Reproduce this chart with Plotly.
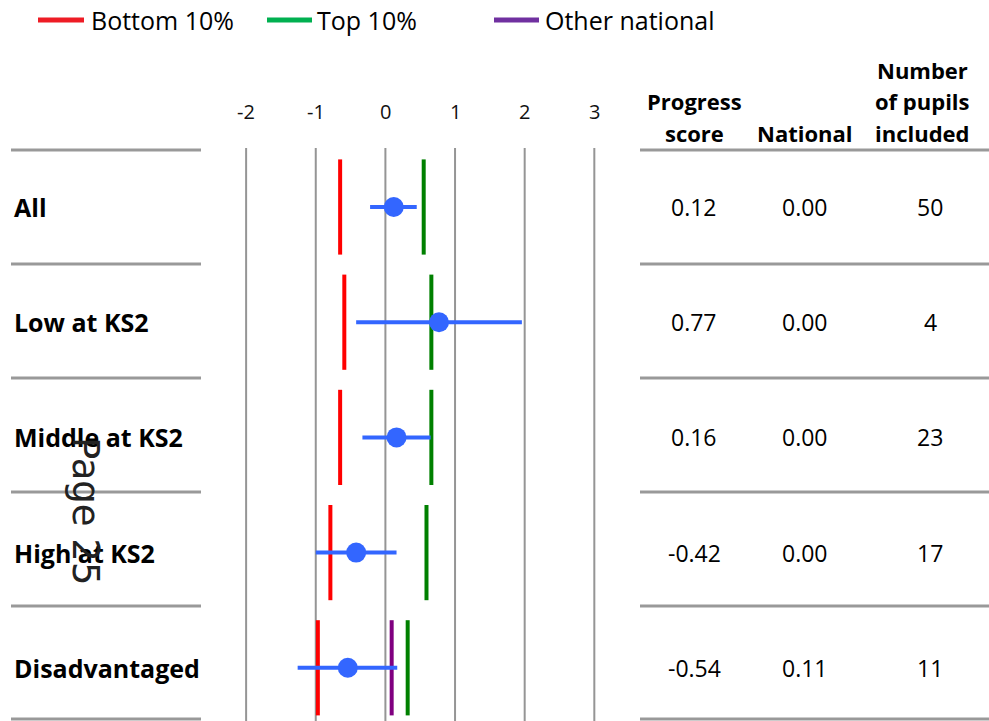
import plotly.graph_objects as go

# ---------------- data ----------------
groups = ["All", "Low at KS2", "Middle at KS2", "High at KS2", "Disadvantaged"]
progress = [0.12, 0.77, 0.16, -0.42, -0.54]
ci_low = [-0.22, -0.42, -0.33, -1.00, -1.26]
ci_high = [0.45, 1.96, 0.65, 0.16, 0.17]
bottom10 = [-0.65, -0.59, -0.65, -0.79, -0.97]
top10 = [0.55, 0.66, 0.66, 0.59, 0.32]
other_national = [None, None, None, None, 0.09]
progress_labels = ["0.12", "0.77", "0.16", "-0.42", "-0.54"]
national_labels = ["0.00", "0.00", "0.00", "0.00", "0.11"]
pupils = [50, 4, 23, 17, 11]
tick_vals = [-2, -1, 0, 1, 2, 3]
tick_text = ["-2", "-1", "0", "1", "2", "3"]
legend_names = ["Bottom 10%", "Top 10%", "Other national"]
headers = ["Progress<br>score", "National", "Number<br>of pupils<br>included"]

# ---------------- geometry helpers ----------------
W, H = 989, 721
X0PX, XSCALE = 385.4, 69.64      # px of x=0, px per unit
Y0PX, YSCALE = 207.0, 115.2      # px of row 0 centre, px per row
xrange = [(0 - X0PX) / XSCALE, (W - X0PX) / XSCALE]
yrange = [(H - Y0PX) / YSCALE, (0 - Y0PX) / YSCALE]


def px_x(p):
    return p / W


def px_y(p):
    return 1 - p / H


FONT = "Open Sans"
rows = list(range(len(groups)))

RED_C, GREEN_C, PURPLE_C, BLUE_C = "#FF0000", "#008000", "#800080", "#3366FF"
GRID_C = "#959595"

fig = go.Figure()

# benchmark lines (vertical ticks)
for vals, col in [(bottom10, RED_C), (top10, GREEN_C), (other_national, PURPLE_C)]:
    fig.add_trace(go.Scatter(
        x=vals, y=rows, mode="markers", showlegend=False, hoverinfo="skip",
        marker=dict(symbol="line-ns-open", size=68, color=col,
                    line=dict(width=4, color=col)),
    ))

# progress score with confidence interval
fig.add_trace(go.Scatter(
    x=progress, y=rows, mode="markers", showlegend=False,
    marker=dict(size=20, color=BLUE_C),
    error_x=dict(type="data", symmetric=False,
                 array=[h - p for h, p in zip(ci_high, progress)],
                 arrayminus=[p - l for p, l in zip(progress, ci_low)],
                 color=BLUE_C, thickness=4, width=0),
))

shapes = []
annotations = []

# vertical gridlines
for tv in tick_vals:
    shapes.append(dict(type="line", xref="x", yref="paper", x0=tv, x1=tv,
                       y0=px_y(148), y1=0, line=dict(color=GRID_C, width=2),
                       layer="below"))

# horizontal separators
sep_px = [150, 264, 378, 492, 606, 719]
for sp in sep_px:
    for xa, xb in [(11, 201), (640, 989)]:
        shapes.append(dict(type="line", xref="paper", yref="paper",
                           x0=px_x(xa), x1=px_x(xb), y0=px_y(sp), y1=px_y(sp),
                           line=dict(color="#999999", width=3)))

# tick labels
for tv, tt in zip(tick_vals, tick_text):
    annotations.append(dict(x=tv, xref="x", y=px_y(112), yref="paper",
                            text=tt, showarrow=False,
                            font=dict(family=FONT, size=20, color="#111111"),
                            xanchor="center", yanchor="middle"))

# row labels and table values
for i, g in enumerate(groups):
    annotations.append(dict(x=px_x(12), xref="paper", y=i, yref="y",
                            text="<b>%s</b>" % g, showarrow=False,
                            font=dict(family=FONT, size=25, color="#000000"),
                            xanchor="left", yanchor="middle"))
    for xp, txt in [(694, progress_labels[i]), (805, national_labels[i]),
                    (930, str(pupils[i]))]:
        annotations.append(dict(x=px_x(xp), xref="paper", y=i, yref="y",
                                text=txt, showarrow=False,
                                font=dict(family=FONT, size=23, color="#000000"),
                                xanchor="center", yanchor="middle"))

# headers (one annotation per line, bottom line aligned)
for xp, htxt in zip([694, 805, 922], headers):
    lines = htxt.split("<br>")
    n = len(lines)
    for k, ln in enumerate(lines):
        ypx = 133 - 31.5 * (n - 1 - k)
        annotations.append(dict(x=px_x(xp), xref="paper", y=px_y(ypx), yref="paper",
                                text="<b>%s</b>" % ln, showarrow=False,
                                font=dict(family=FONT, size=22, color="#000000"),
                                xanchor="center", yanchor="middle"))

# legend (manual)
leg_cols = ["#EE1C25", "#00B050", "#7030A0"]
leg_line = [(38, 84), (267, 312), (494, 539)]
leg_text_x = [89, 315, 543]
for name, col, (la, lb), tx in zip(legend_names, leg_cols, leg_line, leg_text_x):
    shapes.append(dict(type="line", xref="paper", yref="paper",
                       x0=px_x(la), x1=px_x(lb), y0=px_y(20), y1=px_y(20),
                       line=dict(color=col, width=5)))
    annotations.append(dict(x=px_x(tx), xref="paper", y=px_y(20), yref="paper",
                            text=name, showarrow=False,
                            font=dict(family=FONT, size=25, color="#000000"),
                            xanchor="left", yanchor="middle"))

# "Page 25" overlay
annotations.append(dict(x=px_x(86), xref="paper", y=px_y(511), yref="paper",
                        text="Page 25", textangle=90, showarrow=False,
                        font=dict(family="DejaVu Sans", size=37, color="#222222"),
                        xanchor="center", yanchor="middle"))

fig.update_layout(
    width=W, height=H,
    margin=dict(l=0, r=0, t=0, b=0),
    paper_bgcolor="white", plot_bgcolor="white",
    xaxis=dict(range=xrange, visible=False, fixedrange=True),
    yaxis=dict(range=yrange, visible=False, fixedrange=True),
    shapes=shapes, annotations=annotations,
    showlegend=False,
)

fig.write_html("out.html", config={"displayModeBar": False},
               post_script="document.body.style.margin='0';document.body.style.overflow='hidden';")
